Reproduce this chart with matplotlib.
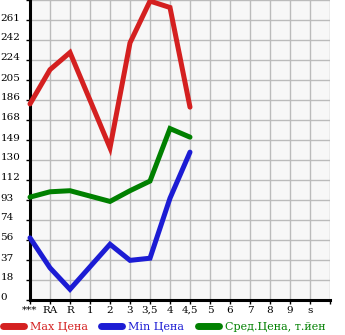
import numpy as np
import matplotlib
matplotlib.use("Agg")
import matplotlib.pyplot as plt
import matplotlib.transforms as mtransforms

# categories (x axis)
x_labels = ["***", "RA", "R", "1", "2", "3", "3,5", "4", "4,5", "5", "6", "7", "8", "9", "s"]

# prices, NaN = no data for that grade
max_price = [183, 215, 231, np.nan, 142, 240, 279, 273, 180]
min_price = [58, 30, 10, np.nan, 52, 37, 39, 95, 138]
avg_price = [96, 101, 102, np.nan, 92, 102, 111, 160, 152]

y_ticks = [0, 18.67, 37.33, 56, 74.67, 93.33, 112, 130.67, 149.33, 168,
           186.67, 205.33, 224, 242.67, 261.33, 280]
y_tick_labels = ["0", "18", "37", "56", "74", "93", "112", "130", "149", "168",
                 "186", "205", "224", "242", "261", ""]

red = "#d42020"
blue = "#1c1cd4"
green = "#008000"

fig = plt.figure(figsize=(3.45, 3.35), dpi=100)
ax = fig.add_axes([30/345, 35/335, 300/345, 300/335])
ax.set_facecolor("#f7f7f7")

def draw(vals, color, label):
    v = np.array(vals, dtype=float)
    x = np.arange(len(v))
    m = np.isfinite(v)
    ax.plot(x[m], v[m], color=color, lw=3.6, solid_capstyle="round",
            solid_joinstyle="miter", label=label, clip_on=False, zorder=3)

draw(max_price, red, "Max Цена")
draw(min_price, blue, "Min Цена")
draw(avg_price, green, "Сред.Цена, т.йен")

ax.set_xlim(0, 15)
ax.set_ylim(0, 280)
ax.set_xticks(range(16))
ax.set_xticklabels(x_labels + [""], fontsize=7.5, family="DejaVu Serif")
ax.set_yticks(y_ticks)
ax.set_yticklabels(y_tick_labels, fontsize=7.5, family="DejaVu Serif")
ax.grid(True, color="#bbbbbb", lw=1)
ax.set_axisbelow(True)

for s in ["top", "right"]:
    ax.spines[s].set_visible(False)
ax.spines["left"].set_linewidth(2.2)
ax.spines["bottom"].set_linewidth(2.2)
ax.tick_params(axis="y", length=3, width=1, pad=2)
ax.tick_params(axis="x", length=3, width=1, pad=1)

# y labels flush left at the figure edge, a bit above the grid line
shift = mtransforms.ScaledTranslation(-22.5/100, 3/100, fig.dpi_scale_trans)
for lab in ax.get_yticklabels():
    lab.set_horizontalalignment("left")
    lab.set_transform(lab.get_transform() + shift)

leg = fig.legend(loc="lower left", bbox_to_anchor=(-0.005, -0.005), ncol=3,
                 frameon=False, handlelength=1.9, handletextpad=0.55,
                 columnspacing=1.2, borderaxespad=0.0,
                 prop={"family": "DejaVu Serif", "size": 8})
for t, c in zip(leg.get_texts(), [red, blue, green]):
    t.set_color(c)
for h in leg.legend_handles:
    h.set_linewidth(5)
    h.set_solid_capstyle("round")

fig.savefig("out.png", dpi=100)
